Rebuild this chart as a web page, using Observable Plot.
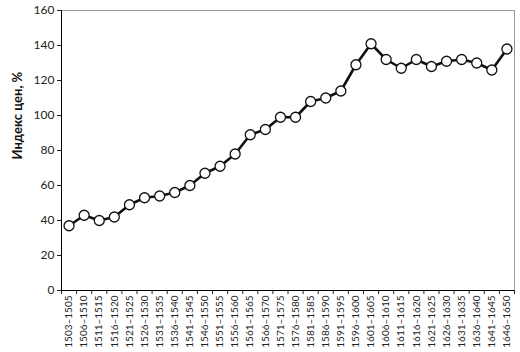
<!DOCTYPE html>
<html><head><meta charset="utf-8">
<script src="https://cdn.jsdelivr.net/npm/d3@7"></script>
<script src="https://cdn.jsdelivr.net/npm/@observablehq/plot@0.6"></script>
<style>
body{margin:0;background:#fff;}
#chart svg{font-family:Lato,"Open Sans",sans-serif;}
</style>
</head><body><div id="chart"></div>
<script>
const periods = ["1503–1505","1506–1510","1511–1515","1516–1520","1521–1525","1526–1530","1531–1535","1536–1540","1541–1545","1546–1550","1551–1555","1556–1560","1561–1565","1566–1570","1571–1575","1576–1580","1581–1585","1586–1590","1591–1595","1596–1600","1601–1605","1606–1610","1611–1615","1616–1620","1621–1625","1626–1630","1631–1635","1636–1640","1641–1645","1646–1650"];
const priceIndex = [37,43,40,42,49,53,54,56,60,67,71,78,89,92,99,99,108,110,114,129,141,132,127,132,128,131,132,130,126,138];
const yTicks = [0,20,40,60,80,100,120,140,160];
const yLabel = "Индекс цен, %";

const data = periods.map((p,i)=>({i, period:p, value:priceIndex[i]}));
const idx = d3.range(periods.length);
const bounds = d3.range(periods.length+1).map(i=>i-0.5);

const chart = Plot.plot({
  width:520, height:352,
  marginLeft:61, marginRight:6, marginTop:10, marginBottom:62,
  style:{fontSize:"11px", color:"#222", background:"#fff"},
  x:{type:"linear", domain:[-0.5, periods.length-0.5], axis:null},
  y:{domain:[0,160], axis:null},
  marks:[
    Plot.frame({stroke:"#999"}),
    Plot.axisY({ticks:yTicks, tickSize:4, tickPadding:3, fontSize:12, label:null}),
    Plot.text([yLabel],{frameAnchor:"left", dx:-44, dy:9, rotate:-90, fontWeight:"bold", fontSize:13, fill:"#111"}),
    Plot.axisX({ticks:bounds, tickSize:4, tickFormat:()=>"", label:null}),
    Plot.axisX({ticks:idx, tickSize:0, tickPadding:5, tickRotate:-90, fontSize:10, tickFormat:i=>periods[i], label:null}),
    Plot.ruleY([0],{stroke:"#000"}),
    Plot.ruleX([-0.5],{stroke:"#000"}),
    Plot.line(data,{x:"i", y:"value", stroke:"#111", strokeWidth:2.6}),
    Plot.dot(data,{x:"i", y:"value", r:5, fill:"#fff", stroke:"#111", strokeWidth:1.3})
  ]
});
document.getElementById("chart").append(chart);
</script>
</body></html>
